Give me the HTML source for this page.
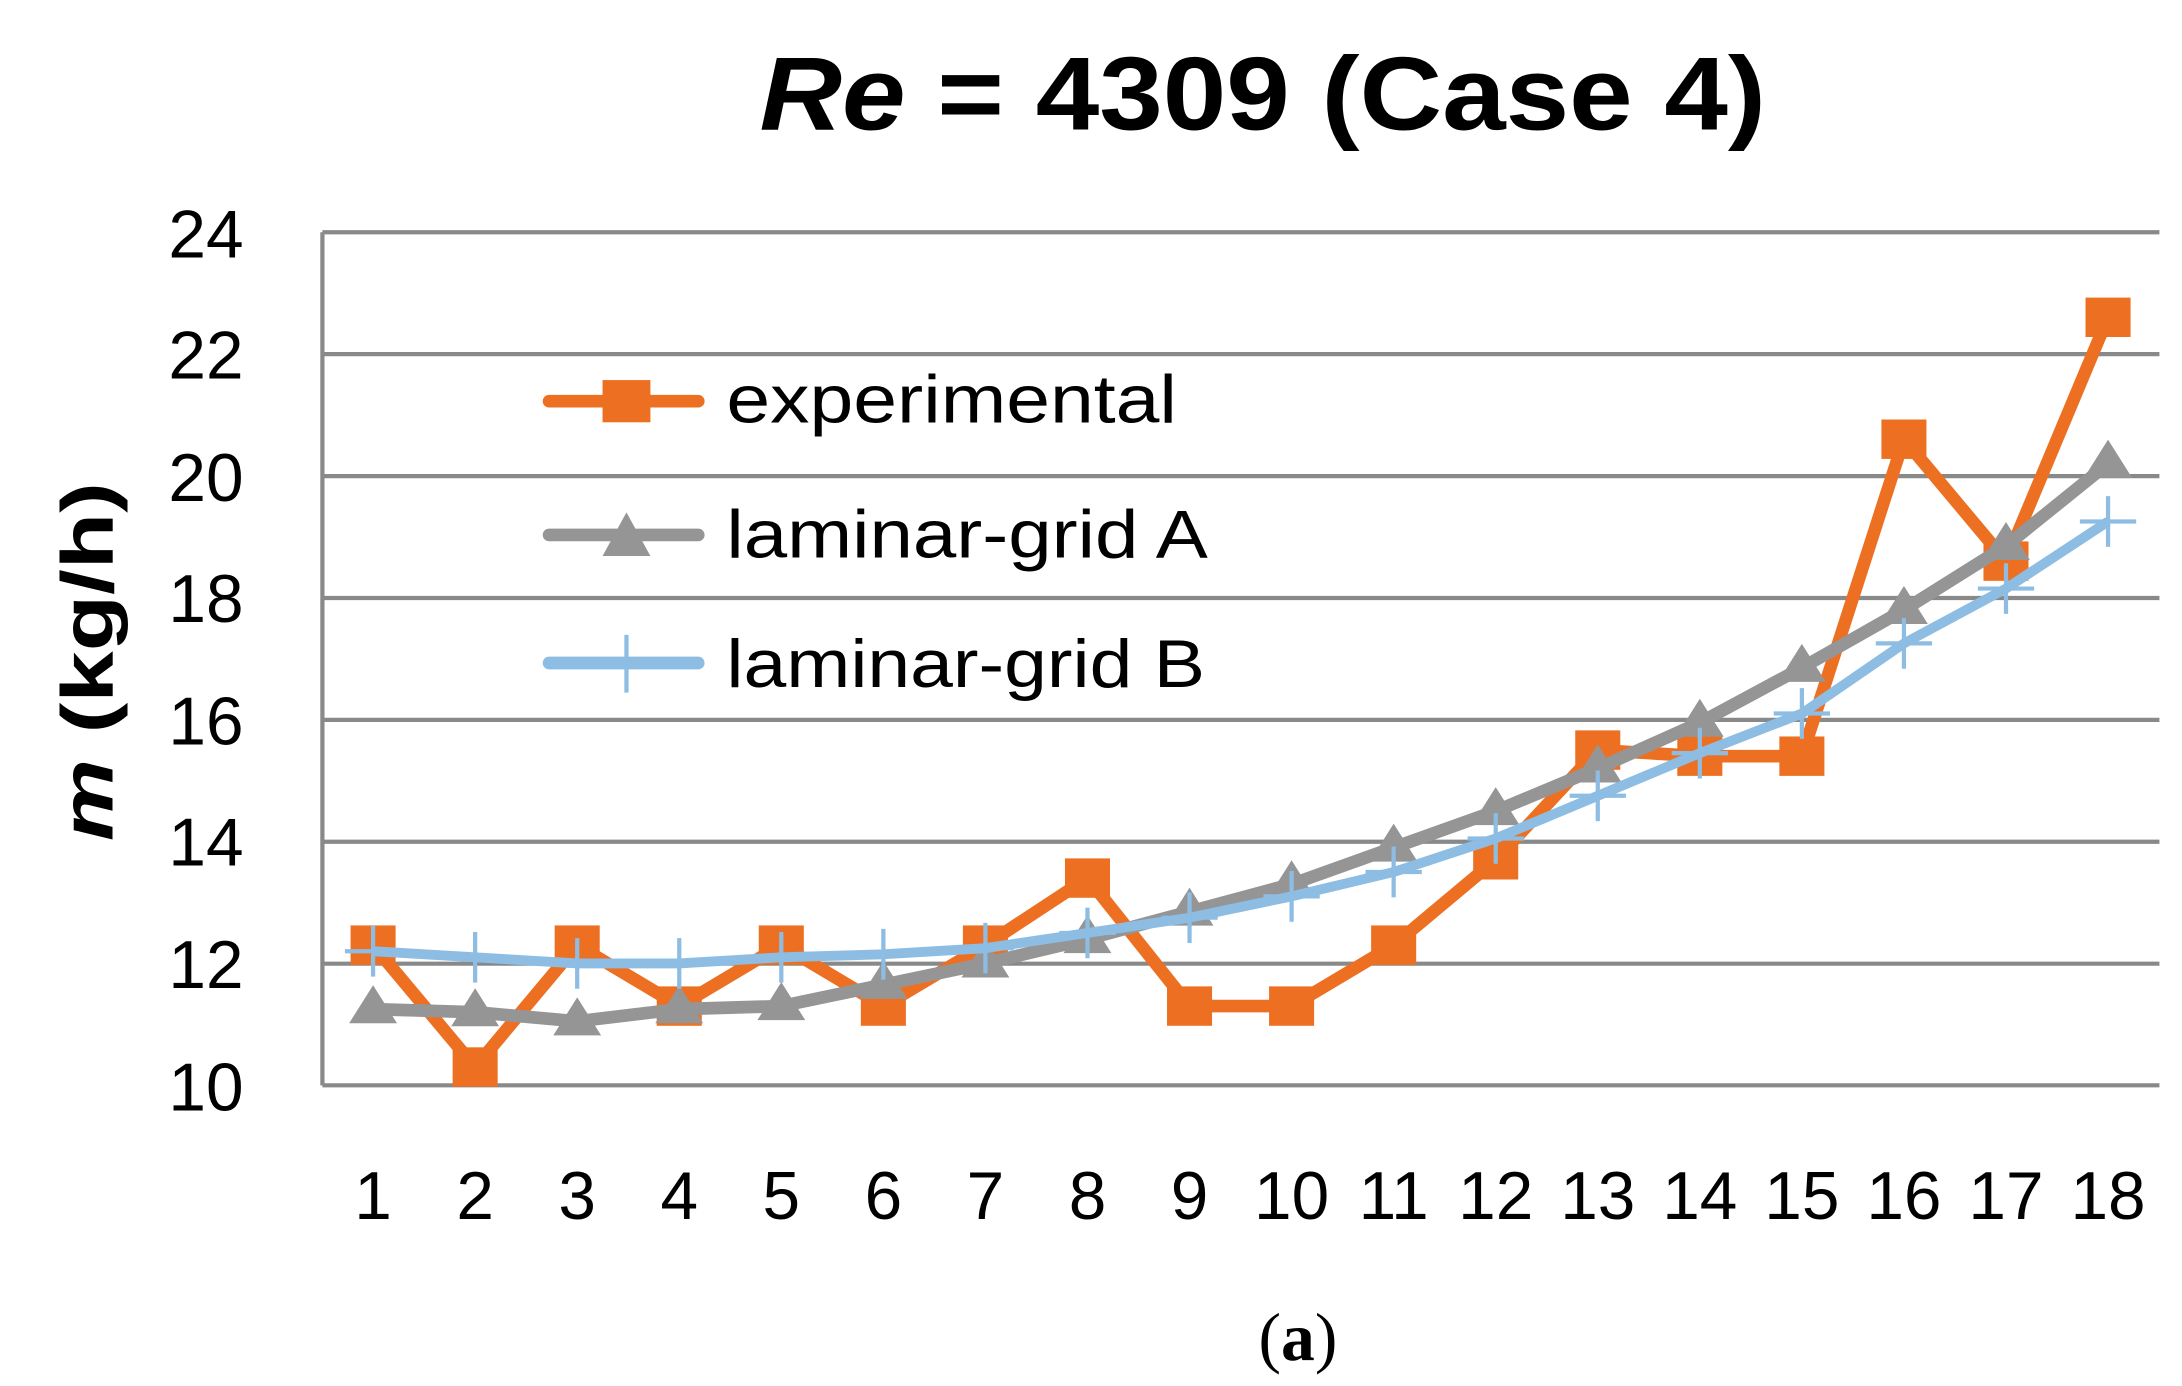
<!DOCTYPE html>
<html><head><meta charset="utf-8"><style>html,body{margin:0;padding:0;background:#fff}svg{display:block}</style></head>
<body>
<svg width="2182" height="1386" viewBox="0 0 1550 984.6" xmlns="http://www.w3.org/2000/svg" font-family="Liberation Sans, sans-serif">
<rect width="1550" height="984.6" fill="#fff"/>
<text x="897" y="92" text-anchor="middle" font-size="74" font-weight="bold" textLength="715" lengthAdjust="spacingAndGlyphs"><tspan font-style="italic">Re</tspan> = 4309 (Case 4)</text>
<g stroke="#898989" stroke-width="3">
<line x1="229" y1="165" x2="1534" y2="165"/><line x1="229" y1="251.6" x2="1534" y2="251.6"/>
<line x1="229" y1="338.2" x2="1534" y2="338.2"/><line x1="229" y1="424.8" x2="1534" y2="424.8"/>
<line x1="229" y1="511.4" x2="1534" y2="511.4"/><line x1="229" y1="598" x2="1534" y2="598"/>
<line x1="229" y1="684.6" x2="1534" y2="684.6"/><line x1="229" y1="771" x2="1534" y2="771"/>
<line x1="229" y1="165" x2="229" y2="771"/>
</g>
<g font-size="48" text-anchor="end">
<text x="173" y="183">24</text><text x="173" y="269">22</text><text x="173" y="356">20</text><text x="173" y="442">18</text><text x="173" y="529">16</text><text x="173" y="615">14</text><text x="173" y="702">12</text><text x="173" y="789">10</text>
</g>
<text transform="translate(80,470) rotate(-90)" text-anchor="middle" font-size="52" font-weight="bold" textLength="255" lengthAdjust="spacingAndGlyphs"><tspan font-style="italic">m</tspan> (kg/h)</text>
<g font-size="48" text-anchor="middle">
<text x="265" y="866">1</text><text x="337.5" y="866">2</text><text x="410" y="866">3</text><text x="482.5" y="866">4</text><text x="555" y="866">5</text><text x="627.5" y="866">6</text><text x="700" y="866">7</text><text x="772.5" y="866">8</text><text x="845" y="866">9</text><text x="917.5" y="866">10</text><text x="990" y="866">11</text><text x="1062.5" y="866">12</text><text x="1135" y="866">13</text><text x="1207.5" y="866">14</text><text x="1280" y="866">15</text><text x="1352.5" y="866">16</text><text x="1425" y="866">17</text><text x="1497.5" y="866">18</text>
</g>
<text x="922" y="966" text-anchor="middle" font-size="48" font-family="Liberation Serif, serif">(<tspan font-weight="bold">a</tspan>)</text>
<g id="plot"></g>
<g font-size="48">
<line x1="390" y1="285" x2="496" y2="285" stroke="#ED7022" stroke-width="9" stroke-linecap="round"/>
<rect x="428" y="270" width="34" height="30" fill="#ED7022"/>
<text x="516" y="300" textLength="320" lengthAdjust="spacingAndGlyphs">experimental</text>
<line x1="390" y1="380" x2="496" y2="380" stroke="#959595" stroke-width="9" stroke-linecap="round"/>
<polygon points="445,364 462,395 428,395" fill="#959595"/>
<text x="516" y="396" textLength="342" lengthAdjust="spacingAndGlyphs">laminar-grid A</text>
<line x1="390" y1="471" x2="496" y2="471" stroke="#8DBDE3" stroke-width="9" stroke-linecap="round"/>
<line x1="445" y1="451" x2="445" y2="492" stroke="#8DBDE3" stroke-width="3"/>
<text x="516" y="488" textLength="340" lengthAdjust="spacingAndGlyphs">laminar-grid B</text>
</g>
<script>
(function(){
var ns="http://www.w3.org/2000/svg",g=document.getElementById("plot");
function X(i){return 265+72.5*i}function Y(v){return 771-(v-10)*43.3}
var E=[12.3,10.3,12.3,11.3,12.3,11.3,12.3,13.4,11.3,11.3,12.3,13.7,15.5,15.4,15.4,20.6,18.6,22.6];
var A=[11.25,11.2,11.05,11.25,11.3,11.65,12.0,12.4,12.85,13.3,13.9,14.5,15.2,15.95,16.85,17.8,18.85,20.2];
var B=[12.2,12.1,12.0,12.0,12.1,12.15,12.25,12.5,12.75,13.1,13.5,14.05,14.75,15.45,16.1,17.25,18.15,19.25];
function el(t,a){var e=document.createElementNS(ns,t);for(var k in a)e.setAttribute(k,a[k]);g.appendChild(e);return e}
function pl(d,c,w){el("polyline",{points:d.map(function(v,i){return X(i)+","+Y(v)}).join(" "),fill:"none",stroke:c,"stroke-width":w,"stroke-linejoin":"round"})}
pl(E,"#ED7022",9);
E.forEach(function(v,i){el("rect",{x:X(i)-16,y:Y(v)-14,width:32,height:28,fill:"#ED7022"})});
pl(A,"#959595",9);
A.forEach(function(v,i){el("polygon",{points:(X(i))+","+(Y(v)-17)+" "+(X(i)+17)+","+(Y(v)+10)+" "+(X(i)-17)+","+(Y(v)+10),fill:"#959595"})});
pl(B,"#8DBDE3",7);
B.forEach(function(v,i){el("line",{x1:X(i)-20,y1:Y(v),x2:X(i)+20,y2:Y(v),stroke:"#8DBDE3","stroke-width":3});el("line",{x1:X(i),y1:Y(v)-18,x2:X(i),y2:Y(v)+18,stroke:"#8DBDE3","stroke-width":3})});
})();
</script>
</svg>
</body></html>
